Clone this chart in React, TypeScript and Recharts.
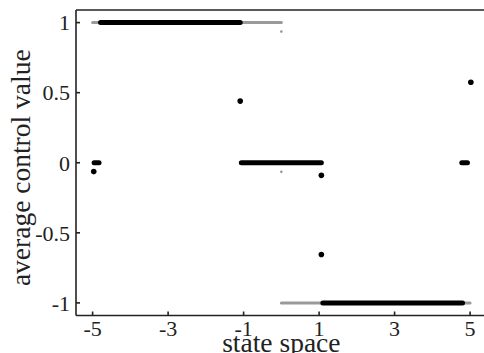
import React from 'react';
import { ComposedChart, Line, Scatter, XAxis, YAxis } from 'recharts';

const xTicks = [-5, -3, -1, 1, 3, 5];
const yTicks = [-1, -0.5, 0, 0.5, 1];
const xDomain = [-5.44, 5.44];
const yDomain = [-1.09, 1.09];

const grayUpper = [{ x: -5, y: 1 }, { x: 0, y: 1 }];
const grayLower = [{ x: 0, y: -1 }, { x: 5, y: -1 }];
const grayDots = [{ x: 0, y: 0.936 }, { x: 0, y: -0.065 }];

const blackUpper = [{ x: -4.79, y: 1 }, { x: -1.09, y: 1 }];
const blackMiddle = [{ x: -1.06, y: 0 }, { x: 1.06, y: 0 }];
const blackLower = [{ x: 1.1, y: -1 }, { x: 4.8, y: -1 }];
const blackLeftStub = [{ x: -4.96, y: 0 }, { x: -4.83, y: 0 }];
const blackRightStub = [{ x: 4.78, y: 0 }, { x: 4.93, y: 0 }];
const blackDots = [
  { x: -1.09, y: 0.44 },
  { x: 5.02, y: 0.574 },
  { x: -4.97, y: -0.063 },
  { x: 1.06, y: -0.09 },
  { x: 1.06, y: -0.655 },
];

const FONT = '"Liberation Serif", serif';
const INK = '#222';

const XLabel = (props: any) => {
  const vb = props.viewBox || {};
  const cx = vb.x + vb.width / 2;
  return (
    <text x={cx} y={352} textAnchor="middle" fontFamily={FONT} fontSize={27.5} fill={INK}>
      state space
    </text>
  );
};

const YLabel = (props: any) => {
  const vb = props.viewBox || {};
  const cy = vb.y + vb.height / 2 + 5;
  const cx = 30;
  return (
    <text
      x={cx}
      y={cy}
      transform={`rotate(-90, ${cx}, ${cy})`}
      textAnchor="middle"
      fontFamily={FONT}
      fontSize={27.5}
      fill={INK}
    >
      average control value
    </text>
  );
};

const bigDot = (p: any) => <circle cx={p.cx} cy={p.cy} r={2.8} fill="#000" />;
const smallDot = (p: any) => <circle cx={p.cx} cy={p.cy} r={1.3} fill="#999" />;

const W = 500;
const H = 380;

export default function App() {
  const tickStyle = { fill: INK, fontSize: 22, fontFamily: FONT };
  const lineStyle = { stroke: INK, strokeWidth: 1.6 };
  return (
    <div
      style={{
        position: 'fixed',
        left: 0,
        top: 0,
        width: 484,
        height: 353,
        overflow: 'hidden',
        background: '#fff',
      }}
    >
      <ComposedChart
        width={W}
        height={H}
        margin={{ top: 9, right: W - 487.7, left: 0, bottom: H - 315.5 - 40 }}
      >
        <XAxis
          xAxisId={0}
          type="number"
          dataKey="x"
          domain={xDomain}
          ticks={xTicks}
          allowDataOverflow
          height={40}
          tickSize={-4}
          tickMargin={9}
          tick={tickStyle}
          axisLine={lineStyle}
          tickLine={lineStyle}
          label={<XLabel />}
        />
        <XAxis
          xAxisId="top"
          orientation="top"
          type="number"
          dataKey="x"
          domain={xDomain}
          ticks={xTicks}
          allowDataOverflow
          height={1}
          tickSize={-4}
          tick={false}
          axisLine={lineStyle}
          tickLine={lineStyle}
        />
        <YAxis
          yAxisId={0}
          type="number"
          domain={yDomain}
          ticks={yTicks}
          allowDataOverflow
          width={76}
          tickSize={-4}
          tickMargin={10}
          tick={tickStyle}
          axisLine={lineStyle}
          tickLine={lineStyle}
          label={<YLabel />}
        />
        <YAxis
          yAxisId="right"
          orientation="right"
          type="number"
          domain={yDomain}
          ticks={yTicks}
          allowDataOverflow
          width={1}
          tickSize={-4}
          tick={false}
          axisLine={lineStyle}
          tickLine={lineStyle}
        />
        <Line data={grayUpper} dataKey="y" type="linear" stroke="#9a9a9a" strokeWidth={3} strokeLinecap="round" dot={false} activeDot={false} isAnimationActive={false} />
        <Line data={grayLower} dataKey="y" type="linear" stroke="#9a9a9a" strokeWidth={3} strokeLinecap="round" dot={false} activeDot={false} isAnimationActive={false} />
        <Line data={blackUpper} dataKey="y" type="linear" stroke="#000" strokeWidth={5} strokeLinecap="round" dot={false} activeDot={false} isAnimationActive={false} />
        <Line data={blackMiddle} dataKey="y" type="linear" stroke="#000" strokeWidth={5} strokeLinecap="round" dot={false} activeDot={false} isAnimationActive={false} />
        <Line data={blackLower} dataKey="y" type="linear" stroke="#000" strokeWidth={5} strokeLinecap="round" dot={false} activeDot={false} isAnimationActive={false} />
        <Line data={blackLeftStub} dataKey="y" type="linear" stroke="#000" strokeWidth={5} strokeLinecap="round" dot={false} activeDot={false} isAnimationActive={false} />
        <Line data={blackRightStub} dataKey="y" type="linear" stroke="#000" strokeWidth={5} strokeLinecap="round" dot={false} activeDot={false} isAnimationActive={false} />
        <Scatter data={grayDots} dataKey="y" shape={smallDot} isAnimationActive={false} />
        <Scatter data={blackDots} dataKey="y" shape={bigDot} isAnimationActive={false} />
      </ComposedChart>
    </div>
  );
}
